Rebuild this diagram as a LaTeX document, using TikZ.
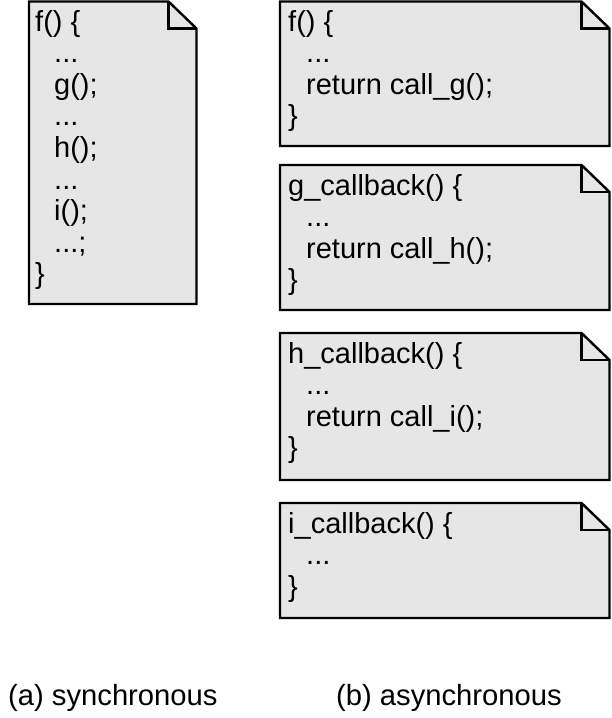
\documentclass[tikz,border=0pt]{standalone}
\usepackage{fontspec}
\setmainfont{Liberation Sans}
\newcommand{\codefont}{\fontsize{29}{31.6}\selectfont}
\newcommand{\capfont}{\fontsize{29.2}{32}\selectfont}
\definecolor{notefill}{HTML}{E6E6E6}
% note shape with a folded top-right corner: \notebox{x1}{y1}{x2}{y2}
\newcommand{\notebox}[4]{%
  \draw[noteline, fill=notefill]
    (#1,#2) -- (#3-28,#2) -- (#3,#2+27) -- (#3,#4) -- (#1,#4) -- cycle;
  \draw[noteline] (#3-28,#2) -- (#3-28,#2+27) -- (#3,#2+27);
}
\tikzset{
  noteline/.style={draw=black, line width=2.4pt, line join=miter},
  code/.style={anchor=base west, inner sep=0pt, font=\codefont},
  caption/.style={anchor=base west, inner sep=0pt, font=\capfont},
}
\begin{document}
\begin{tikzpicture}[x=1pt, y=-1pt]
  \useasboundingbox (0,0) rectangle (612,718);

  % (a) synchronous version
  \notebox{29}{1.5}{196.5}{304}
  \node[code] (s1) at (35,31)    {f() \{};
  \node[code] (s2) at (54,62.6)  {...};
  \node[code] (s3) at (54,94.2)  {g();};
  \node[code] (s4) at (54,125.8) {...};
  \node[code] (s5) at (54,157.4) {h();};
  \node[code] (s6) at (54,189)   {...};
  \node[code] (s7) at (54,220.6) {i();};
  \node[code] (s8) at (54,252.2) {...;};
  \node[code] (s9) at (35,283.8) {\}};

  % (b) asynchronous version
  \notebox{280}{1.5}{609.5}{146}
  \node[code] (f1) at (288,31)    {f() \{};
  \node[code] (f2) at (306,62.6)  {...};
  \node[code] (f3) at (306,94.2)  {return call\_g();};
  \node[code] (f4) at (288,125.8) {\}};

  \notebox{280}{165}{609.5}{310}
  \node[code] (g1) at (288,195)   {g\_callback() \{};
  \node[code] (g2) at (306,226.6) {...};
  \node[code] (g3) at (306,258.2) {return call\_h();};
  \node[code] (g4) at (288,289.8) {\}};

  \notebox{280}{333}{609.5}{480}
  \node[code] (h1) at (288,363)   {h\_callback() \{};
  \node[code] (h2) at (306,394.6) {...};
  \node[code] (h3) at (306,426.2) {return call\_i();};
  \node[code] (h4) at (288,457.8) {\}};

  \notebox{280}{503}{609.5}{618}
  \node[code] (i1) at (288,533)   {i\_callback() \{};
  \node[code] (i2) at (306,564.6) {...};
  \node[code] (i3) at (288,596.2) {\}};

  % captions
  \node[caption] (capa) at (8,705)   {(a) synchronous};
  \node[caption] (capb) at (336,705) {(b) asynchronous};
\end{tikzpicture}
\end{document}
